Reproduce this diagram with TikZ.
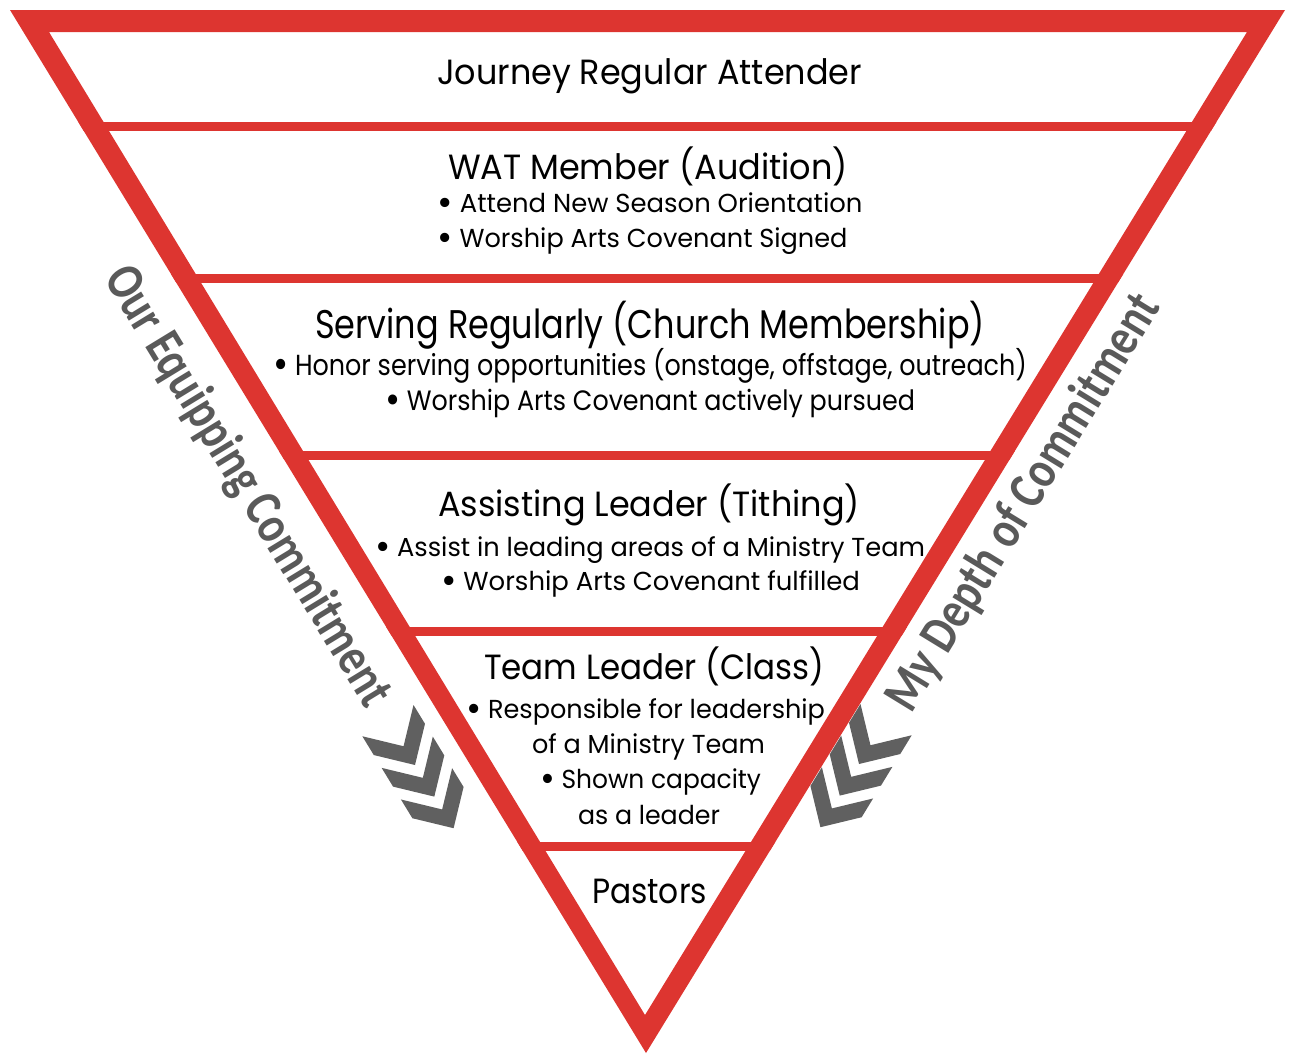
\documentclass[tikz,border=0pt]{standalone}
\usepackage{fontspec}
\usepackage{graphicx}
\newfontfamily\futf{Poppins}
\newfontfamily\sidef{Carlito}
\definecolor{framered}{RGB}{221,53,48}
\definecolor{chevfill}{RGB}{96,96,96}
\definecolor{labelgray}{RGB}{90,90,90}
\newsavebox\fitbox
\newcommand\fitw[2]{\sbox\fitbox{#2}\edef\fitfac{\fpeval{#1/(\the\wd\fitbox)}}\scalebox{\fitfac}[1]{\usebox\fitbox}}
\newcommand\bu{\raisebox{-0.12em}{\scalebox{1.45}{•}}\ }
\begin{document}
\begin{tikzpicture}[x=1pt,y=-1pt,
  title/.style={font=\futf\fontsize{35}{40}\selectfont, anchor=base, inner sep=0pt},
  bul/.style={font=\futf\fontsize{26}{30}\selectfont, anchor=base, inner sep=0pt},
  side/.style={font=\sidef\bfseries\fontsize{53}{56}\selectfont, text=labelgray, inner sep=0pt},
  divider/.style={draw=framered, line width=9pt},
  chevron/.pic={\fill[chevfill] (0,0) -- (-30,30) -- (-52,30) -- (-22,0) -- (-52,-30) -- (-30,-30) -- cycle;}
]
\useasboundingbox (0,0) rectangle (1289,1055);
\coordinate (oTL) at (10,10);
\coordinate (oTR) at (1285,10);
\coordinate (oB) at (646,1053);
\coordinate (iTL) at (49,32);
\coordinate (iTR) at (1247,32);
\coordinate (iB) at (645,1015);
\fill[framered, even odd rule] (oTL) -- (oTR) -- (oB) -- cycle (iTL) -- (iTR) -- (iB) -- cycle;
\begin{scope}
  \clip (oTL) -- (oTR) -- (oB) -- cycle;
  \foreach \y in {126,278,455,631,846} \draw[divider] (0,\y) -- (1289,\y);
\end{scope}
\node[title] (t1) at (649.5,84) {\fitw{425}{Journey Regular Attender}};
\node[title] (t2) at (648,179) {\fitw{400}{WAT Member (Audition)}};
\node[bul] (b21) at (650,212) {\fitw{425}{\bu Attend New Season Orientation}};
\node[bul] (b22) at (642.5,247) {\fitw{410}{\bu Worship Arts Covenant Signed}};
\node[title, font=\futf\fontsize{40}{44}\selectfont] (t3) at (650,338) {\fitw{670}{Serving Regularly (Church Membership)}};
\node[bul, font=\futf\fontsize{29}{32}\selectfont] (b31) at (650,375) {\fitw{754}{\bu Honor serving opportunities (onstage, offstage, outreach)}};
\node[bul, font=\futf\fontsize{28}{30}\selectfont] (b32) at (650,410) {\fitw{530}{\bu Worship Arts Covenant actively pursued}};
\node[title] (t4) at (649,516) {\fitw{422}{Assisting Leader (Tithing)}};
\node[bul] (b41) at (650,556) {\fitw{550}{\bu Assist in leading areas of a Ministry Team}};
\node[bul] (b42) at (650.5,590) {\fitw{419}{\bu Worship Arts Covenant fulfilled}};
\node[title] (t5) at (654,679) {\fitw{340}{Team Leader (Class)}};
\node[bul] (b51) at (645.5,718) {\fitw{359}{\bu Responsible for leadership}};
\node[bul] (b52) at (648.5,753) {\fitw{233}{of a Ministry Team}};
\node[bul] (b53) at (650.5,788) {\fitw{221}{\bu Shown capacity}};
\node[bul] (b54) at (649,824) {\fitw{142}{as a leader}};
\node[title] (t6) at (649.5,903) {\fitw{115}{Pastors}};
\node[side, rotate=-58.6] (lblL) at (247,487) {\fitw{505}{Our Equipping Commitment}};
\node[side, rotate=58.5] (lblR) at (1024,503) {\fitw{478}{My Depth of Commitment}};
\pic[rotate=-58.6] at (415,765) {chevron};
\pic[rotate=-58.6] at (434.3,796.6) {chevron};
\pic[rotate=-58.6] at (453.6,828.2) {chevron};
\pic[rotate=-121.4] at (859,764) {chevron};
\pic[rotate=-121.4] at (839.7,795.6) {chevron};
\pic[rotate=-121.4] at (820.4,827.2) {chevron};
\end{tikzpicture}
\end{document}
